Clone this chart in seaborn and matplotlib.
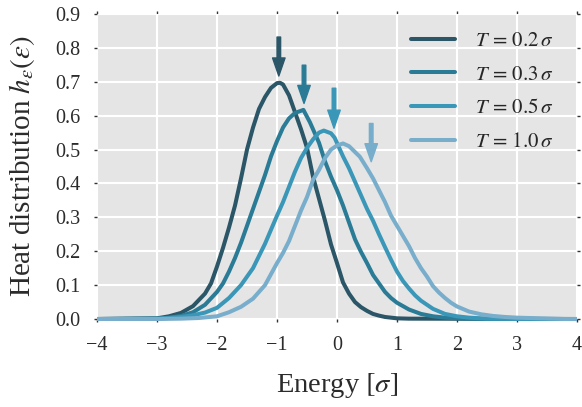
import matplotlib
matplotlib.use("Agg")
import matplotlib.pyplot as plt
import seaborn as sns
import pandas as pd

# ---- data ----
labels = [r"$T\,=\,0.2\,\sigma$", r"$T\,=\,0.3\,\sigma$", r"$T\,=\,0.5\,\sigma$", r"$T\,=\,1.0\,\sigma$"]

e_t02 = [-4, -3.0, -2.8, -2.6, -2.4, -2.2, -2.1, -2.0, -1.9, -1.8, -1.7, -1.6, -1.5, -1.4, -1.3, -1.2, -1.1,
         -1.0, -0.95, -0.9, -0.8, -0.7, -0.6, -0.5, -0.4, -0.3, -0.2, -0.1, 0.0, 0.1, 0.2, 0.3, 0.4, 0.5,
         0.6, 0.7, 0.8, 1.0, 1.2, 4]
h_t02 = [0, 0.002, 0.008, 0.018, 0.038, 0.075, 0.105, 0.155, 0.21, 0.27, 0.335, 0.415, 0.50, 0.565, 0.62, 0.655, 0.682,
         0.696, 0.697, 0.692, 0.66, 0.61, 0.56, 0.505, 0.42, 0.355, 0.29, 0.22, 0.165, 0.108, 0.075, 0.05, 0.035, 0.024,
         0.015, 0.01, 0.006, 0.002, 0.001, 0]

e_t03 = [-4, -3.0, -2.8, -2.6, -2.4, -2.2, -2.0, -1.9, -1.8, -1.7, -1.6, -1.5, -1.4, -1.3, -1.2, -1.1, -1.0, -0.9,
         -0.8, -0.7, -0.56, -0.45, -0.4, -0.3, -0.2, -0.1, 0.0, 0.1, 0.2, 0.3, 0.4, 0.5, 0.6, 0.7, 0.8, 0.9, 1.0,
         1.2, 1.4, 1.6, 1.8, 2.0, 2.4, 4]
h_t03 = [0, 0.001, 0.004, 0.009, 0.02, 0.042, 0.08, 0.105, 0.14, 0.18, 0.225, 0.275, 0.325, 0.375, 0.425, 0.48, 0.525, 0.565,
         0.592, 0.608, 0.617, 0.58, 0.56, 0.52, 0.465, 0.42, 0.38, 0.335, 0.285, 0.235, 0.198, 0.165, 0.13, 0.105, 0.08, 0.062, 0.048,
         0.028, 0.015, 0.008, 0.004, 0.002, 0.0, 0]

e_t05 = [-4, -3.0, -2.8, -2.6, -2.4, -2.2, -2.0, -1.8, -1.6, -1.4, -1.2, -1.0, -0.9, -0.8, -0.7, -0.6, -0.5, -0.4,
         -0.3, -0.22, -0.1, -0.04, 0.1, 0.2, 0.3, 0.4, 0.5, 0.6, 0.7, 0.8, 0.9, 1.0, 1.1, 1.2, 1.3, 1.4, 1.6, 1.8,
         2.0, 2.2, 2.5, 3.0, 4]
h_t05 = [0, 0.001, 0.003, 0.006, 0.011, 0.019, 0.033, 0.062, 0.1, 0.15, 0.222, 0.305, 0.345, 0.39, 0.435, 0.475, 0.505, 0.53,
         0.55, 0.556, 0.548, 0.535, 0.48, 0.445, 0.405, 0.365, 0.325, 0.29, 0.25, 0.212, 0.175, 0.14, 0.112, 0.09, 0.07, 0.054, 0.03, 0.015,
         0.008, 0.004, 0.001, 0.0, 0]

e_t10 = [-4, -3.0, -2.6, -2.3, -2.0, -1.8, -1.6, -1.4, -1.2, -1.0, -0.9, -0.8, -0.7, -0.6, -0.5, -0.4, -0.3, -0.2,
         -0.1, 0.0, 0.1, 0.2, 0.38, 0.5, 0.6, 0.7, 0.8, 0.9, 1.0, 1.1, 1.2, 1.3, 1.4, 1.5, 1.6, 1.7, 1.8, 1.9, 2.0,
         2.2, 2.4, 2.6, 2.8, 3.0, 3.4, 3.8, 4]
h_t10 = [0, 0.0, 0.001, 0.003, 0.008, 0.02, 0.036, 0.06, 0.1, 0.165, 0.195, 0.23, 0.275, 0.32, 0.36, 0.41, 0.44, 0.475,
         0.5, 0.512, 0.518, 0.51, 0.479, 0.445, 0.415, 0.38, 0.345, 0.305, 0.275, 0.245, 0.215, 0.18, 0.15, 0.125, 0.097, 0.078, 0.062, 0.048, 0.037,
         0.022, 0.014, 0.009, 0.006, 0.004, 0.002, 0.0, 0]

arrow_x = [-0.97, -0.55, -0.05, 0.57]
arrow_top = [0.832, 0.749, 0.681, 0.577]
arrow_tip = [0.717, 0.636, 0.563, 0.464]

colors = ["#2a5667", "#2a7b96", "#3a97b8", "#78aecb"]
xticks = [-4, -3, -2, -1, 0, 1, 2, 3, 4]
yticks = [0.0, 0.1, 0.2, 0.3, 0.4, 0.5, 0.6, 0.7, 0.8, 0.9]

# ---- style ----
sns.set_theme(style="darkgrid")
plt.rcParams.update({
    "font.family": ["Liberation Serif", "DejaVu Serif"],
    "mathtext.fontset": "stix",
    "axes.facecolor": "#e5e5e5",
    "grid.color": "white",
    "grid.linewidth": 1.5,
    "axes.unicode_minus": True,
})

frames = []
for lab, e, h in zip(labels, [e_t02, e_t03, e_t05, e_t10], [h_t02, h_t03, h_t05, h_t10]):
    frames.append(pd.DataFrame({"energy": e, "h": h, "T": lab}))
df = pd.concat(frames, ignore_index=True)

fig = plt.figure(figsize=(5.82, 4.07), dpi=100)
ax = fig.add_axes([0.1667, 0.2162, 0.8247, 0.7494])

sns.lineplot(data=df, x="energy", y="h", hue="T", hue_order=labels,
             palette=colors, linewidth=2.9, ax=ax, sort=True, estimator=None)
for ln in ax.get_lines():
    ln.set_clip_on(False)
    ln.set_solid_capstyle("butt")
    ln.set_solid_joinstyle("round")

for x, top, tip, c in zip(arrow_x, arrow_top, arrow_tip, colors):
    ax.annotate("", xy=(x, tip), xytext=(x, top),
                arrowprops=dict(facecolor=c, edgecolor=c, width=2.6,
                                headwidth=9, headlength=13, shrink=0))

ax.set_xlim(-4, 4)
ax.set_ylim(0, 0.9)
ax.set_xticks(xticks)
ax.set_yticks(yticks)
ax.set_xticklabels([f"{t}".replace("-", "\u2212") for t in xticks])
ax.set_yticklabels([f"{t:.1f}" for t in yticks])
ax.tick_params(axis="both", labelsize=14.5, labelcolor="#2b2b2b", length=2,
               width=1, color="#333333", pad=10, top=True, right=True,
               bottom=True, left=True, direction="out")
for s in ax.spines.values():
    s.set_visible(False)

ax.set_xlabel(r"Energy $[\sigma]$", fontsize=20.5, color="#2b2b2b", labelpad=12)
ax.set_ylabel(r"Heat distribution $h_\varepsilon(\varepsilon)$", fontsize=21,
              color="#2b2b2b", labelpad=13)

sns.move_legend(ax, "upper right", bbox_to_anchor=(0.99, 1.005), frameon=False,
                title=None, fontsize=15, handlelength=2.1, handletextpad=0.95,
                labelspacing=0.68)
leg = ax.get_legend()
for ln in leg.get_lines():
    ln.set_linewidth(2.9)

fig.savefig("out.png", dpi=100)
